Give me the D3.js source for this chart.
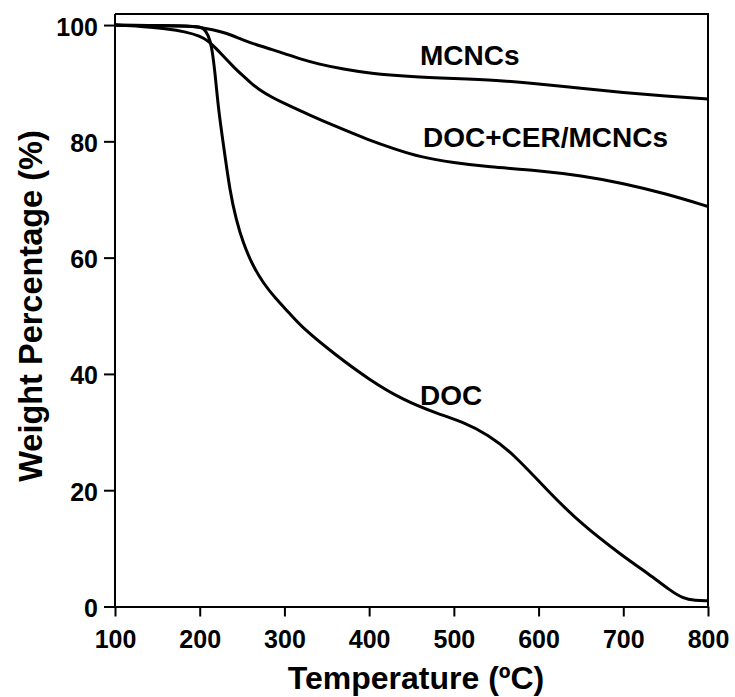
<!DOCTYPE html>
<html>
<head>
<meta charset="utf-8">
<script src="https://cdn.jsdelivr.net/npm/d3@7"></script>
<style>
  html, body { margin: 0; padding: 0; background: #fff; }
  #chart { width: 735px; height: 697px; }
  text { font-family: "Liberation Sans", Arial, sans-serif; font-weight: bold; fill: #000; }
</style>
</head>
<body>
<div id="chart"></div>
<script>
// temperature (ºC) / weight (%) pairs
const mcncs = [
    [100, 100], [150, 99.9], [188, 99.9], [200, 99.6], [215, 99.2], [230, 98.7],
    [250, 97.5], [267, 96.6], [285, 95.8], [300, 95.1], [320, 94.1], [340, 93.3],
    [370, 92.4], [400, 91.7], [450, 91.1], [500, 90.8], [550, 90.5], [600, 89.9],
    [650, 89.1], [700, 88.4], [750, 87.8], [800, 87.3]
];

const docCerMcncs = [
    [100, 100], [130, 99.8], [160, 99.4], [185, 98.8], [200, 98.1], [210, 97.3],
    [220, 95.9], [230, 94.3], [240, 92.8], [250, 91.4], [260, 90.1], [270, 88.9],
    [285, 87.6], [300, 86.5], [330, 84.5], [360, 82.6], [400, 80.2], [430, 78.7],
    [460, 77.3], [500, 76.3], [540, 75.6], [600, 75.0], [650, 74.1], [700, 72.8],
    [750, 71.0], [800, 68.8]
];

const doc = [
    [100, 100], [150, 99.9], [190, 99.8], [200, 99.7], [205, 99.4], [210, 98.3],
    [214, 96.5], [218, 92.0], [222, 85.6], [228, 79.4], [236, 71.1], [243, 66.6],
    [251, 62.6], [262, 58.8], [275, 55.6], [290, 52.9], [305, 50.6], [322, 47.8],
    [360, 43.3], [400, 39.0], [440, 35.5], [480, 33.2], [510, 31.8], [540, 29.6],
    [570, 26.3], [610, 20.0], [650, 14.2], [700, 8.6], [730, 5.6], [755, 2.8],
    [770, 1.4], [785, 1.0], [800, 1.0]
];

const seriesNames = ["MCNCs", "DOC+CER/MCNCs", "DOC"];
const xTicks = [100, 200, 300, 400, 500, 600, 700, 800];
const yTicks = [0, 20, 40, 60, 80, 100];

const width = 735;
const height = 697;
const margin = { top: 14, right: 27, bottom: 90.5, left: 115 };

const svg = d3.select('#chart')
    .append('svg')
    .attr('width', width)
    .attr('height', height);

const x = d3.scaleLinear()
    .domain([100, 800])
    .range([margin.left, width - margin.right]);

// top of the frame sits a little above 100 %
const y = d3.scaleLinear()
    .domain([0, 100])
    .range([height - margin.bottom, height - margin.bottom - (height - margin.bottom - margin.top) * 100 / 101.9]);

// frame (top and right edges)
svg.append("path")
    .attr("d", `M${x(100)},${margin.top}H${x(800)}V${y(0)}`)
    .attr("fill", "none")
    .attr("stroke", "#000")
    .attr("stroke-width", 2);

const xAxis = svg.append("g")
    .attr("transform", `translate(0,${y(0)})`)
    .call(d3.axisBottom(x).tickValues(xTicks).tickSize(10).tickPadding(13.5).tickSizeOuter(0));

const yAxis = svg.append("g")
    .attr("transform", `translate(${x(100)},0)`)
    .call(d3.axisLeft(y).tickValues(yTicks).tickSize(11).tickPadding(6).tickSizeOuter(0));

[xAxis, yAxis].forEach(g => {
    g.select(".domain").attr("stroke-width", 2);
    g.selectAll(".tick line").attr("stroke-width", 2);
    g.selectAll(".tick text")
        .style("font-size", "25px")
        .attr("font-family", null);
});
yAxis.select(".domain").attr("d", `M0,${y(0)}V${margin.top}`);
yAxis.selectAll(".tick text").attr("dy", "0.4em");

const line = d3.line()
    .x(d => x(d[0]))
    .y(d => y(d[1]))
    .curve(d3.curveBasis);

svg.append("g")
    .selectAll("path")
    .data([mcncs, docCerMcncs, doc])
    .join("path")
    .attr("d", line)
    .attr("fill", "none")
    .attr("stroke", "#000")
    .attr("stroke-width", 3)
    .attr("stroke-linejoin", "round");

// curve labels, anchored in data units
const labelAt = [[460, 93.1], [463.6, 79.0], [460, 34.65]];
svg.append("g")
    .selectAll("text")
    .data(seriesNames)
    .join("text")
    .attr("x", (d, i) => x(labelAt[i][0]))
    .attr("y", (d, i) => y(labelAt[i][1]))
    .style("font-size", "28px")
    .text(d => d);

svg.append("text")
    .attr("x", 416)
    .attr("y", 689)
    .attr("text-anchor", "middle")
    .style("font-size", "32px")
    .text("Temperature (ºC)");

svg.append("text")
    .attr("transform", "translate(42,306) rotate(-90)")
    .attr("text-anchor", "middle")
    .style("font-size", "32.5px")
    .text("Weight Percentage (%)");
</script>
</body>
</html>
